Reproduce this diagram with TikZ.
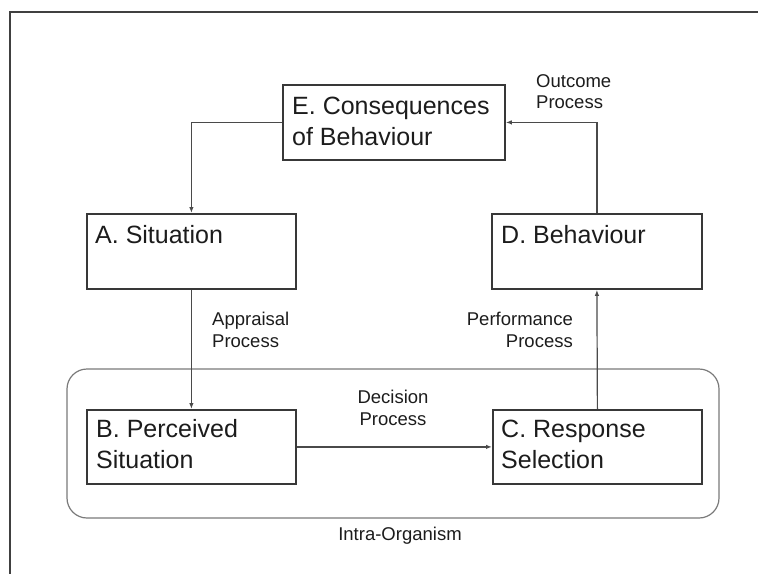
\documentclass[tikz,border=0pt]{standalone}
\usepackage{fontspec}
\setmainfont{Liberation Sans}
\usetikzlibrary{arrows.meta}

\definecolor{framecol}{HTML}{404040}
\definecolor{boxcol}{HTML}{383838}
\definecolor{linecol}{HTML}{4A4A4A}
\definecolor{groupcol}{HTML}{7A7A7A}
\definecolor{txtcol}{HTML}{1C1C1C}

\tikzset{
  stagebox/.style={draw=boxcol, line width=1.8pt, anchor=north west, inner sep=0pt},
  stagetext/.style={anchor=base west, inner sep=0pt, text=txtcol, align=left,
    font=\fontsize{25}{31}\selectfont},
  proclabel/.style={inner sep=0pt, text=txtcol,
    font=\fontsize{18.5}{21.5}\selectfont},
  conn/.style={draw=linecol, line width=1.2pt, -{Latex[length=6pt,width=4.5pt]}},
  groupbox/.style={draw=groupcol, line width=1.2pt, rounded corners=20pt}
}

\begin{document}
\begin{tikzpicture}[x=1pt, y=-1pt]
  \useasboundingbox (0,0) rectangle (758,574);

  % page frame, top and left edges
  \draw[framecol, line width=1.5pt] (758,12) -- (10,12) -- (10,574);

  % intra-organism grouping
  \draw[groupbox] (67,369) rectangle (719,518);
  \node[proclabel, anchor=base] (lintra) at (400,540.5) {Intra-Organism};

  % stages
  \node[stagebox, minimum width=222pt, minimum height=75pt] (E) at (282,84) {};
  \node[stagebox, minimum width=209pt, minimum height=75pt] (A) at (86,213) {};
  \node[stagebox, minimum width=210pt, minimum height=75pt] (D) at (491,213) {};
  \node[stagebox, minimum width=209pt, minimum height=74pt] (B) at (86,409) {};
  \node[stagebox, minimum width=209pt, minimum height=74pt] (C) at (492,409) {};

  % the base anchor of a two-line node sits on its last line
  \node[stagetext] (tE) at (292,145) {E. Consequences\\of Behaviour};
  \node[stagetext] (tA) at (95,243) {A. Situation};
  \node[stagetext] (tD) at (501,243) {D. Behaviour};
  \node[stagetext] (tB) at (96,468) {B. Perceived\\Situation};
  \node[stagetext] (tC) at (501,468.5) {C. Response\\Selection};

  % processes
  \draw[conn] (E.west) -| (A.north);
  \draw[conn] (A.south) -- (B.north);
  \draw[conn] (B.east) -- (C.west);
  \draw[conn] (C.north) -- (D.south);
  \draw[conn] (D.north) |- (E.east);

  \node[proclabel, anchor=base west, align=left] (lapp) at (212,347) {Appraisal\\Process};
  \node[proclabel, anchor=base east, align=right] (lperf) at (573,347) {Performance\\Process};
  \node[proclabel, anchor=base, align=center] (ldec) at (393,425) {Decision\\Process};
  \node[proclabel, anchor=base west, align=left] (lout) at (536,108.5) {Outcome\\Process};
\end{tikzpicture}
\end{document}
